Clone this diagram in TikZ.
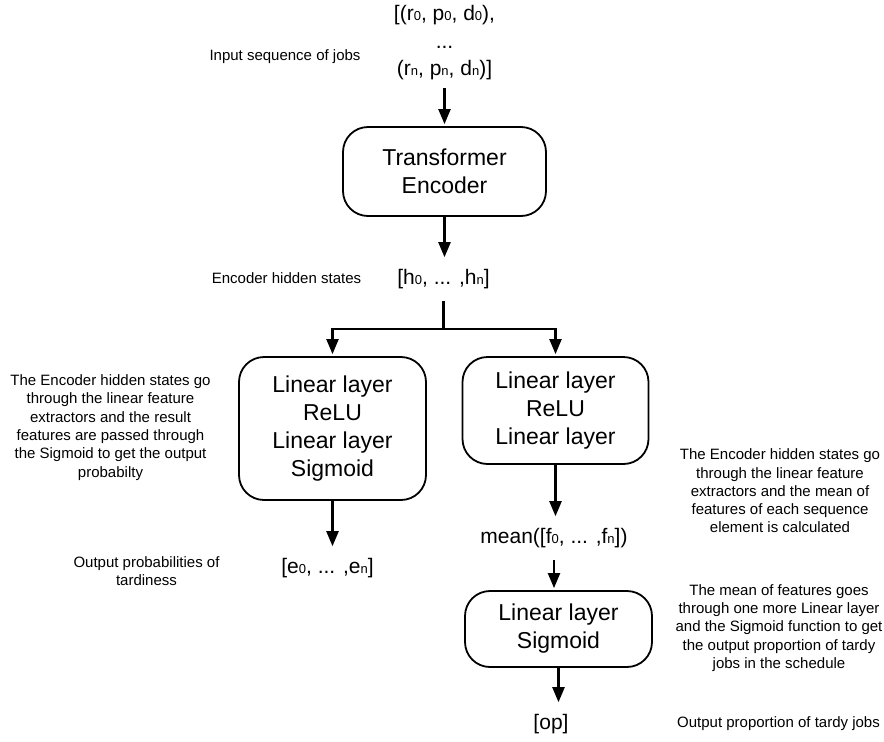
\documentclass[tikz,border=0pt]{standalone}
\usepackage{fontspec}
\setmainfont{Liberation Sans}
\usetikzlibrary{arrows.meta}
\newcommand{\lo}[1]{{\fontsize{13}{13}\selectfont #1}}
\begin{document}
\begin{tikzpicture}[x=1pt,y=-1pt,
  box/.style={draw, line width=1.8pt, rounded corners=25pt, align=center,
    font=\fontsize{23}{28}\selectfont, inner sep=0pt},
  big/.style={align=center, font=\fontsize{21}{27.5}\selectfont, inner sep=0pt, outer sep=12pt},
  ann/.style={align=center, font=\fontsize{15}{18.3}\selectfont, inner sep=0pt},
  arr/.style={line width=2.2pt, -{Triangle[length=15pt,width=12pt]}},
  ln/.style={line width=2.2pt}
]
\fill[white] (0,0) rectangle (884,742);
\useasboundingbox (0,0) rectangle (884,742);

% main column
\node[big] (in) at (444.5,43) {[(r\lo{0}, p\lo{0}, d\lo{0}),\\...\\(r\lo{n}, p\lo{n}, d\lo{n})]};
\node[box, minimum width=203pt, minimum height=89pt] (enc) at (444.5,171.5) {Transformer\\Encoder};
\node[big] (h) at (443.5,279) {[h\lo{0}, ... ,h\lo{n}]};
\coordinate (split) at (443.5,329);
\node[box, minimum width=187pt, minimum height=143pt] (lin1) at (332.5,428.5) {Linear layer\\ReLU\\Linear layer\\Sigmoid};
\node[box, minimum width=186pt, minimum height=107pt] (lin2) at (555.5,410.5) {Linear layer\\ReLU\\Linear layer};
\node[big] (e) at (327.5,568) {[e\lo{0}, ... ,e\lo{n}]};
\node[big] (mean) at (554,538) {mean([f\lo{0}, ... ,f\lo{n}])};
\node[box, minimum width=187pt, minimum height=76pt] (fin) at (558.5,629) {Linear layer\\Sigmoid};
\node[big] (op) at (551,724) {[op]};

% annotations
\node[ann] (a1) at (285,57) {Input sequence of jobs};
\node[ann] (a2) at (286.5,278) {Encoder hidden states};
\node[ann] (a3) at (110.5,427.5) {The Encoder hidden states go\\through the linear feature\\extractors and the result\\features are passed through\\the Sigmoid to get the output\\probabilty};
\node[ann] (a4) at (146.5,571) {Output probabilities of\\tardiness};
\node[ann] (a5) at (780,491) {The Encoder hidden states go\\through the linear feature\\extractors and the mean of\\features of each sequence\\element is calculated};
\node[ann] (a6) at (779,628) {The mean of features goes\\through one more Linear layer\\and the Sigmoid function to get\\the output proportion of tardy\\jobs in the schedule};
\node[ann] (a7) at (778.5,724) {Output proportion of tardy jobs};

% connectors
\draw[arr, shorten <=-4pt, shorten >=2pt] (in.south) -- (in.south |- enc.north);
\draw[arr] (enc.south) -- (enc.south |- h.north);
\draw[ln] (h.south) -- (split);
\draw[arr, shorten >=2pt] (split) -| (lin1.north);
\draw[arr, shorten >=2pt] (split) -| (lin2.north);
\draw[arr] (lin1.south) -- (lin1.south |- e.north);
\draw[arr] (lin2.south) -- (lin2.south |- mean.north);
\draw[arr, shorten >=2pt] (mean.south) -- (mean.south |- fin.north);
\draw[arr] (fin.south) -- (fin.south |- op.north);
\end{tikzpicture}
\end{document}
